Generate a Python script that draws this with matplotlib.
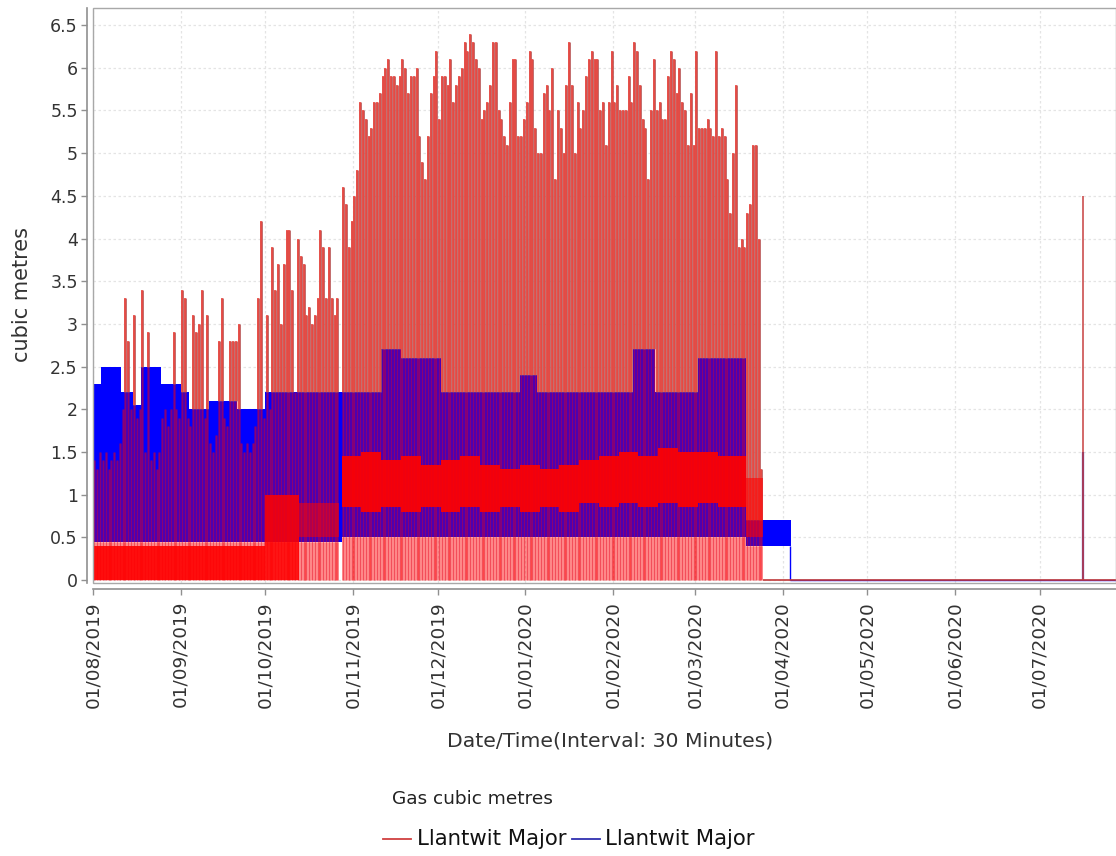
import datetime as dt

import numpy as np
import matplotlib
matplotlib.use("Agg")
import matplotlib.pyplot as plt
import matplotlib.dates as mdates
import matplotlib.patheffects as pe
from matplotlib.lines import Line2D
from matplotlib.patches import Rectangle
from matplotlib.ticker import FuncFormatter

plt.rcParams['font.family'] = ['DejaVu Sans']

start = dt.date(2019, 8, 1)
end = dt.date(2020, 7, 28)

# red meter: highest half-hour reading of each day (cubic metres)
red_peak_aug = [1.4, 1.3, 1.5, 1.4, 1.5, 1.3, 1.4, 1.5, 1.4, 1.6, 2.0, 3.3, 2.8, 2.0, 3.1, 1.9,
                2.0, 3.4, 1.5, 2.9, 1.4, 1.5, 1.3, 1.5, 1.9, 2.0, 1.8, 2.0, 2.9, 2.0, 1.9]
red_peak_sep = [3.4, 3.3, 1.9, 1.8, 3.1, 2.9, 3.0, 3.4, 1.9, 3.1, 1.6, 1.5, 1.7, 2.8, 3.3,
                1.9, 1.8, 2.8, 2.8, 2.8, 3.0, 1.6, 1.5, 1.6, 1.5, 1.6, 1.8, 3.3, 4.2, 1.9]
red_peak_oct = [3.1, 2.0, 3.9, 3.4, 3.7, 3.0, 3.7, 4.1, 4.1, 3.4, 2.2, 4.0, 3.8, 3.7, 3.1, 3.2,
                3.0, 3.1, 3.3, 4.1, 3.9, 3.3, 3.9, 3.3, 3.1, 3.3, 0.0, 4.6, 4.4, 3.9, 4.2]
red_peak_nov = [4.5, 4.8, 5.6, 5.5, 5.4, 5.2, 5.3, 5.6, 5.6, 5.7, 5.9, 6.0, 6.1, 5.9, 5.9,
                5.8, 5.9, 6.1, 6.0, 5.7, 5.9, 5.9, 6.0, 5.2, 4.9, 4.7, 5.2, 5.7, 5.9, 6.2]
red_peak_dec = [5.4, 5.9, 5.9, 5.8, 6.1, 5.6, 5.8, 5.9, 6.0, 6.3, 6.2, 6.4, 6.3, 6.1, 6.0, 5.4,
                5.5, 5.6, 5.8, 6.3, 6.3, 5.5, 5.4, 5.2, 5.1, 5.6, 6.1, 6.1, 5.2, 5.2, 5.4]
red_peak_jan = [5.6, 6.2, 6.1, 5.3, 5.0, 5.0, 5.7, 5.8, 5.5, 6.0, 4.7, 5.5, 5.3, 5.0, 5.8, 6.3,
                5.8, 5.0, 5.6, 5.3, 5.5, 5.9, 6.1, 6.2, 6.1, 6.1, 5.5, 5.6, 5.1, 5.6, 6.2]
red_peak_feb = [5.6, 5.8, 5.5, 5.5, 5.5, 5.9, 5.6, 6.3, 6.2, 5.8, 5.4, 5.3, 4.7, 5.5, 6.1,
                5.5, 5.6, 5.4, 5.4, 5.9, 6.2, 6.1, 5.7, 6.0, 5.6, 5.5, 5.1, 5.7, 5.1]
red_peak_mar = [6.2, 5.3, 5.3, 5.3, 5.4, 5.3, 5.2, 6.2, 5.2, 5.3, 5.2, 4.7, 4.3, 5.0, 5.8, 3.9,
                4.0, 3.9, 4.3, 4.4, 5.1, 5.1, 4.0, 1.3]

# red meter: where most of the half-hour readings sit (first day, last day, low, high)
band_first = [0, 61, 73, 88, 95, 102, 109, 116, 123, 130, 137, 144, 151, 158, 165, 172,
              179, 186, 193, 200, 207, 214, 221, 231]
band_last = [60, 72, 86, 94, 101, 108, 115, 122, 129, 136, 143, 150, 157, 164, 171, 178,
             185, 192, 199, 206, 213, 220, 230, 236]
band_low = [0.0, 0.0, 0.5, 0.85, 0.8, 0.85, 0.8, 0.85, 0.8, 0.85, 0.8, 0.85, 0.8, 0.85,
            0.8, 0.9, 0.85, 0.9, 0.85, 0.9, 0.85, 0.9, 0.85, 0.5]
band_high = [0.4, 1.0, 0.9, 1.45, 1.5, 1.4, 1.45, 1.35, 1.4, 1.45, 1.35, 1.3, 1.35, 1.3,
             1.35, 1.4, 1.45, 1.5, 1.45, 1.55, 1.5, 1.5, 1.45, 1.2]
band_alpha = [0.9, 0.85, 0.55] + [0.92] * 20 + [0.6]

# blue meter: daily top and bottom of the trace, as runs of days
blue_top_days = [3, 7, 4, 3, 7, 7, 3, 7, 10, 10, 27, 14, 7, 14, 28, 6, 34, 8, 15, 17, 16]
blue_top = [2.3, 2.5, 2.2, 2.05, 2.5, 2.3, 2.2, 2.0, 2.1, 2.0, 2.2, 2.2, 2.7, 2.6, 2.2, 2.4,
            2.2, 2.7, 2.2, 2.6, 0.7]
blue_low_days = [88, 143, 16]
blue_low = [0.45, 0.5, 0.4]

# one reading after the spring shutdown
july_day = 350
july_red = 4.5
july_blue = 1.5

red_peak = np.array(red_peak_aug + red_peak_sep + red_peak_oct + red_peak_nov +
                    red_peak_dec + red_peak_jan + red_peak_feb + red_peak_mar)
b_top = np.repeat(blue_top, blue_top_days)
b_low = np.repeat(blue_low, blue_low_days)

x0 = mdates.date2num(start)
x_end = mdates.date2num(end)

fig = plt.figure(figsize=(11.16, 8.56), dpi=100)
ax = fig.add_axes([93 / 1116, (856 - 583) / 856, 1023 / 1116, 575 / 856])

# blue trace as a filled daily envelope
nb = len(b_top)
xb = x0 + np.arange(nb + 1)
ax.fill_between(xb, np.append(b_low, b_low[-1]), np.append(b_top, b_top[-1]),
                step='post', color='#0000ff', lw=0, zorder=2)
ax.vlines(x0 + nb - 0.2, 0, b_low[-1], colors='#0000ff', lw=1.0, zorder=2)
ax.hlines(0, x0 + nb - 0.2, x_end, colors='#0000ff', lw=1.0, zorder=2)

# red trace, one stroke per day, see-through over the blue one
nr = len(red_peak)
xr = x0 + np.arange(nr) + 0.5
upper = np.maximum(b_top[:nr], 0.4)
under = np.minimum(red_peak, b_low[:nr])
mid = np.minimum(red_peak, upper)
ax.vlines(xr, 0, under, colors='#ff0000', alpha=0.5, lw=2.05, zorder=3)
ax.vlines(xr, under, mid, colors='#ff0000', alpha=0.33, lw=2.05, zorder=3)
ax.vlines(xr, 0, mid, colors='#e00020', alpha=0.38, lw=0.75, zorder=3)
hi = red_peak > upper
ax.vlines(xr[hi], upper[hi], red_peak[hi], colors='#f04a42', lw=1.1, zorder=4,
          path_effects=[pe.Stroke(linewidth=1.9, foreground='#b85050'), pe.Normal()])

for f, l, lo, up, a in zip(band_first, band_last, band_low, band_high, band_alpha):
    ax.fill_between([x0 + f, x0 + l + 1], lo, up, color='#ff0000', alpha=a,
                    lw=0, zorder=5)

ax.hlines(0, x0 + nr, x_end, colors='#c03a3a', lw=1.2, zorder=5)
ax.vlines(x0 + july_day + 0.2, 0, july_blue, colors='#3030c0', lw=1.6, zorder=3)
ax.vlines(x0 + july_day + 0.2, 0, july_red, colors='#c84040', lw=1.1, zorder=4)

ax.set_xlim(x0, x_end)
ax.set_ylim(-0.035, 6.7)

ax.set_yticks(np.arange(0, 6.51, 0.5))
ax.yaxis.set_major_formatter(FuncFormatter(lambda v, p: '%g' % v))
months = [mdates.date2num(dt.date(2019 + (7 + i) // 12, (7 + i) % 12 + 1, 1)) for i in range(12)]
ax.set_xticks(months)
ax.xaxis.set_major_formatter(mdates.DateFormatter('%d/%m/%Y'))
ax.tick_params(axis='x', labelrotation=90, labelsize=13.3, length=4, width=1,
               color='#909090', labelcolor='#333333', pad=5)
ax.tick_params(axis='y', labelsize=12.5, length=4, width=1, color='#909090',
               labelcolor='#333333', pad=3)

ax.grid(True, color='#e4e4e4', linestyle=(0, (2, 2)), lw=0.9, zorder=0)
ax.set_axisbelow(True)

for s in ['top', 'right']:
    ax.spines[s].set_visible(False)
ax.spines['left'].set_position(('outward', 4))
ax.spines['bottom'].set_position(('outward', 4))
for s in ['left', 'bottom']:
    ax.spines[s].set_color('#909090')
    ax.spines[s].set_linewidth(1.2)
ax.add_patch(Rectangle((0, 0), 1, 1, transform=ax.transAxes, fill=False,
                       edgecolor='#a8a8a8', lw=1.0, zorder=6, clip_on=False))

fig.text(22 / 1116, 1 - 295 / 856, 'cubic metres', rotation=90, fontsize=15,
         color='#333333', ha='center', va='center')
fig.text(610 / 1116, 1 - 741 / 856, 'Date/Time(Interval: 30 Minutes)', fontsize=14.7,
         color='#333333', ha='center', va='center')

# legend block
fig.text(472 / 1116, 1 - 799 / 856, 'Gas cubic metres', fontsize=13.3, color='#222222',
         ha='center', va='center')
ly = 1 - 839 / 856
fig.add_artist(Line2D([383 / 1116, 411 / 1116], [ly, ly], color='#d04040', lw=1.3))
fig.text(417 / 1116, ly, 'Llantwit Major', fontsize=15.3, color='#111111',
         ha='left', va='center')
fig.add_artist(Line2D([572 / 1116, 600 / 1116], [ly, ly], color='#3030b0', lw=1.3))
fig.text(605 / 1116, ly, 'Llantwit Major', fontsize=15.3, color='#111111',
         ha='left', va='center')

fig.savefig('out.png', dpi=100)
